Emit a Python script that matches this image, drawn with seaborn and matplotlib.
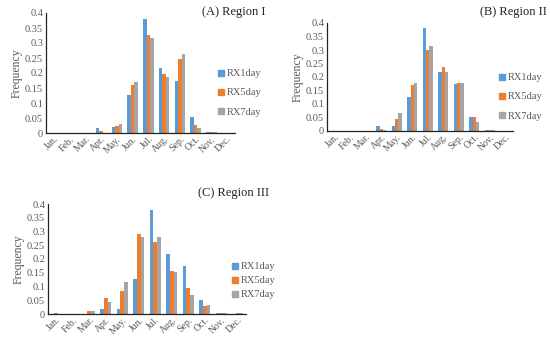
import matplotlib
matplotlib.use("Agg")
import matplotlib.pyplot as plt
from matplotlib.lines import Line2D
import seaborn as sns
import pandas as pd

months = ["Jan.", "Feb.", "Mar.", "Apr.", "May.", "Jun.", "Jul.", "Aug.", "Sep.", "Oct.", "Nov.", "Dec."]
series = ["RX1day", "RX5day", "RX7day"]

a_rx1 = [0, 0, 0, 0.018, 0.02, 0.127, 0.38, 0.218, 0.175, 0.052, 0.005, 0]
a_rx5 = [0, 0, 0, 0.008, 0.023, 0.16, 0.328, 0.197, 0.246, 0.027, 0.005, 0]
a_rx7 = [0, 0, 0.001, 0, 0.03, 0.17, 0.318, 0.188, 0.263, 0.018, 0.005, 0]

b_rx1 = [0, 0, 0, 0.018, 0.02, 0.127, 0.38, 0.218, 0.175, 0.052, 0.005, 0]
b_rx5 = [0, 0, 0, 0.008, 0.046, 0.172, 0.3, 0.236, 0.178, 0.053, 0.004, 0]
b_rx7 = [0, 0, 0, 0.002, 0.068, 0.178, 0.315, 0.217, 0.176, 0.035, 0.003, 0]

c_rx1 = [0, 0, 0, 0.018, 0.02, 0.127, 0.38, 0.218, 0.175, 0.052, 0.005, 0]
c_rx5 = [0.002, 0, 0.011, 0.057, 0.082, 0.292, 0.263, 0.155, 0.094, 0.03, 0.005, 0.002]
c_rx7 = [0, 0.001, 0.011, 0.045, 0.115, 0.279, 0.279, 0.152, 0.07, 0.031, 0.005, 0.005]

titles = ["(A) Region I", "(B) Region II", "(C) Region III"]
colors = ["#5B9BD5", "#ED7D31", "#A5A5A5"]

sns.set_style("white")
plt.rcParams["font.family"] = ["Liberation Serif", "DejaVu Serif"]
TXT = "#595959"

W, H = 550, 345
fig = plt.figure(figsize=(5.5, 3.45), dpi=100)

# pixel boxes: left, right, top, bottom
boxes = [(46, 235, 13, 133), (327, 513, 23, 131), (48, 246, 204, 314)]
title_pos = [(265, 12), (547, 12), (269, 193)]
legend_pos = [(217, 69), (498, 73), (231, 262)]
spacings = [0.95, 0.95, 0.45]
data = [(a_rx1, a_rx5, a_rx7), (b_rx1, b_rx5, b_rx7), (c_rx1, c_rx5, c_rx7)]

for (l, r, t, b), (tx, ty), (lx, ly), sp_, vals, title in zip(boxes, title_pos, legend_pos, spacings, data, titles):
    ax = fig.add_axes([l / W, 1 - b / H, (r - l) / W, (b - t) / H])
    rows = []
    for s, v in zip(series, vals):
        for m, val in zip(months, v):
            rows.append({"Month": m, "Series": s, "Frequency": val})
    df = pd.DataFrame(rows)
    sns.barplot(data=df, x="Month", y="Frequency", hue="Series", order=months,
                hue_order=series, palette=colors, width=0.66, ax=ax,
                legend=False, saturation=1, linewidth=0, gap=0)
    ax.set_ylim(0, 0.4)
    ax.set_yticks([0, 0.05, 0.1, 0.15, 0.2, 0.25, 0.3, 0.35, 0.4])
    ax.set_yticklabels(["0", "0.05", "0.1", "0.15", "0.2", "0.25", "0.3", "0.35", "0.4"])
    ax.set_xlim(-0.5, 11.5)
    ax.set_xlabel("")
    ax.set_ylabel("Frequency", color=TXT, fontsize=8.5, labelpad=2)
    ax.tick_params(axis="y", labelsize=7.5, colors=TXT, length=0, pad=2)
    ax.tick_params(axis="x", labelsize=7, colors=TXT, length=0, pad=1)
    for lab in ax.get_xticklabels():
        lab.set_rotation(45)
        lab.set_ha("right")
        lab.set_rotation_mode("anchor")
    for sp in ["top", "right"]:
        ax.spines[sp].set_visible(False)
    for sp in ["left", "bottom"]:
        ax.spines[sp].set_color("#222222")
        ax.spines[sp].set_linewidth(0.9)
    fig.text(tx / W, 1 - ty / H, title, ha="right", va="center", fontsize=9, color="#222222")
    handles = [Line2D([0], [0], marker="s", linestyle="", markersize=4, color=c) for c in colors]
    fig.legend(handles, series, loc="upper left", bbox_to_anchor=(lx / W, 1 - ly / H),
               frameon=False, fontsize=7.5, labelcolor=TXT, handletextpad=0.1,
               handlelength=0.8, labelspacing=sp_, borderaxespad=0, borderpad=0)

fig.savefig("out.png", dpi=100)
